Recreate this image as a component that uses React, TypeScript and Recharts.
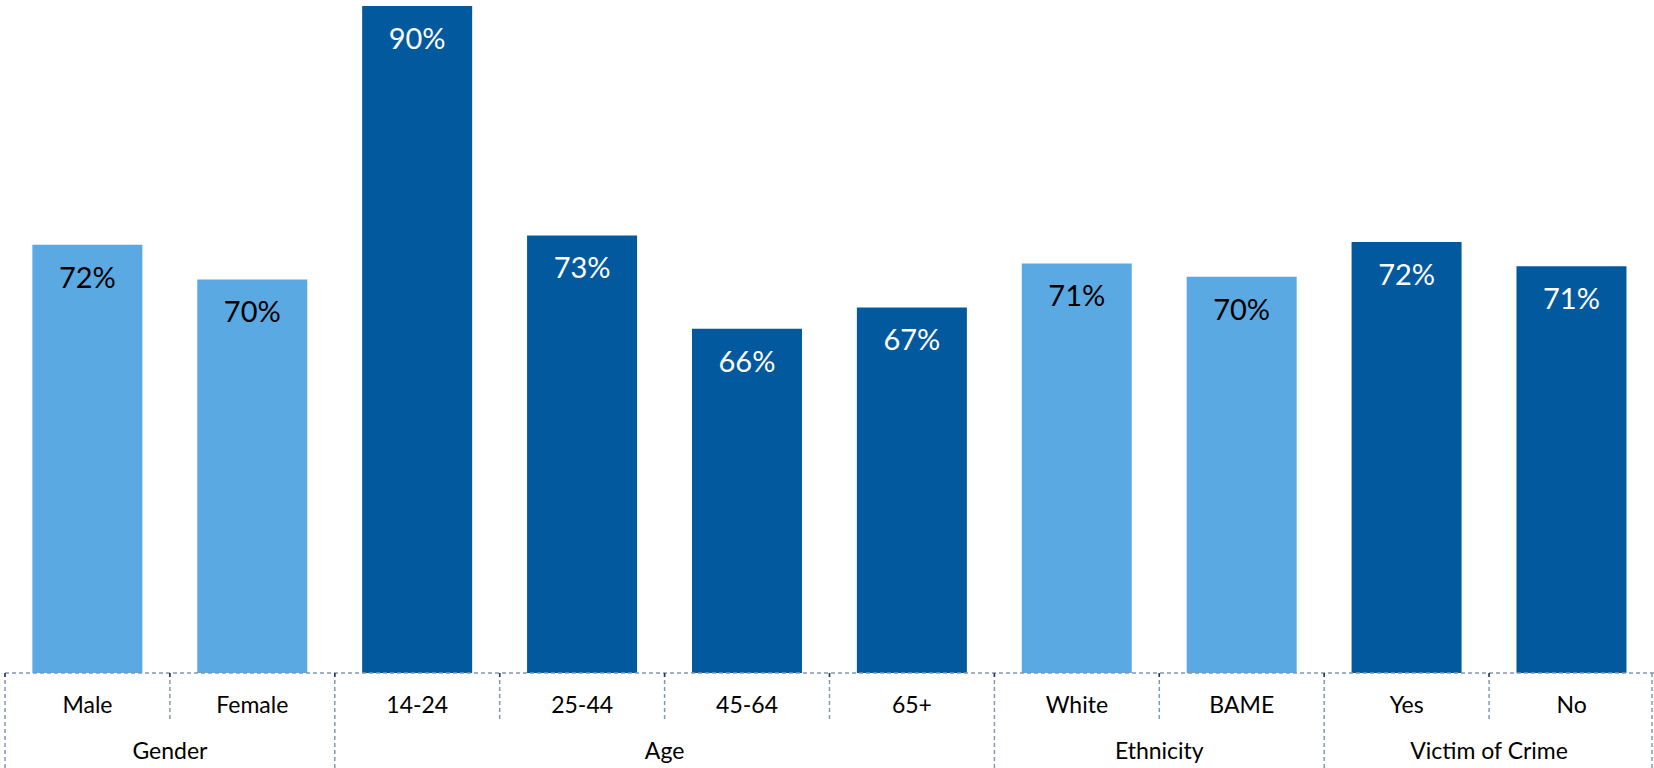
import React from "react";
import { BarChart, Bar, XAxis, YAxis, Cell, LabelList } from "recharts";

const categories = ["Male", "Female", "14-24", "25-44", "45-64", "65+", "White", "BAME", "Yes", "No"];
const values = [72.1, 69.5, 90, 72.8, 65.8, 67.4, 70.7, 69.7, 72.3, 70.5];
const valueLabels = ["72%", "70%", "90%", "73%", "66%", "67%", "71%", "70%", "72%", "71%"];
const groupNames = ["Gender", "Age", "Ethnicity", "Victim of Crime"];
const groupSizes = [2, 4, 2, 2];
const groupShades = ["light", "dark", "light", "dark"];

const LIGHT = "#5BA9E3";
const DARK = "#02599E";
const DASH = "#8497B0";

const CHART_W = 1654;
const CHART_H = 768;
const MARGIN = { top: 6, right: 0, bottom: 0, left: 5 };
const AXIS_H = 95;
const PLOT_BOTTOM = CHART_H - AXIS_H;
const BAND = (CHART_W - MARGIN.left - MARGIN.right) / categories.length;
const FONT = "Lato, 'Noto Sans', sans-serif";

const groupOf: number[] = [];
const groupStart: boolean[] = [];
groupSizes.forEach((s, g) => {
  for (let i = 0; i < s; i++) {
    groupOf.push(g);
    groupStart.push(i === 0);
  }
});

const data = categories.map((c, i) => ({
  name: c,
  value: values[i],
  label: valueLabels[i],
  shade: groupShades[groupOf[i]],
}));

const CatTick = (props: any) => {
  const { x, payload } = props;
  const i = payload.index;
  const left = x - BAND / 2;
  const g = groupOf[i];
  const isStart = groupStart[i];
  const isLast = i === categories.length - 1;
  return (
    <g>
      <text x={x} y={PLOT_BOTTOM + 40} textAnchor="middle" fontSize={23} fill="#000" fontFamily={FONT}>
        {payload.value}
      </text>
      <line
        x1={left}
        x2={left}
        y1={PLOT_BOTTOM}
        y2={isStart ? CHART_H : PLOT_BOTTOM + 47}
        stroke={DASH}
        strokeWidth={1.5}
        strokeDasharray="4 3"
      />
      <line x1={left} x2={left} y1={PLOT_BOTTOM} y2={PLOT_BOTTOM + 4} stroke="#1F3864" strokeWidth={1.5} />
      {isLast && (
        <line
          x1={x + BAND / 2 - 2}
          x2={x + BAND / 2 - 2}
          y1={PLOT_BOTTOM}
          y2={CHART_H}
          stroke={DASH}
          strokeWidth={1.5}
          strokeDasharray="4 3"
        />
      )}
      {isStart && (
        <text
          x={left + (groupSizes[g] * BAND) / 2}
          y={CHART_H - 9}
          textAnchor="middle"
          fontSize={23}
          fill="#000"
          fontFamily={FONT}
        >
          {groupNames[g]}
        </text>
      )}
    </g>
  );
};

const ValueLabel = (props: any) => {
  const { x, y, width, index } = props;
  const dark = data[index].shade === "dark";
  return (
    <text
      x={x + width / 2}
      y={y + 43}
      textAnchor="middle"
      fontSize={29}
      fill={dark ? "#FFFFFF" : "#000000"}
      fontFamily={FONT}
    >
      {data[index].label}
    </text>
  );
};

export default function App() {
  return (
    <div style={{ position: "absolute", left: 0, top: 0, width: CHART_W, height: CHART_H, background: "#fff" }}>
      <BarChart
        width={CHART_W}
        height={CHART_H}
        data={data}
        margin={MARGIN}
        barCategoryGap="16.6%"
        style={{ fontFamily: FONT }}
      >
        <XAxis
          dataKey="name"
          height={AXIS_H}
          interval={0}
          tickLine={false}
          axisLine={{ stroke: DASH, strokeWidth: 1.5, strokeDasharray: "4 3" }}
          tick={<CatTick />}
        />
        <YAxis hide domain={[40, 90]} allowDataOverflow />
        <Bar dataKey="value" isAnimationActive={false}>
          {data.map((d, i) => (
            <Cell key={i} fill={d.shade === "dark" ? DARK : LIGHT} />
          ))}
          <LabelList dataKey="label" content={<ValueLabel />} />
        </Bar>
      </BarChart>
    </div>
  );
}
